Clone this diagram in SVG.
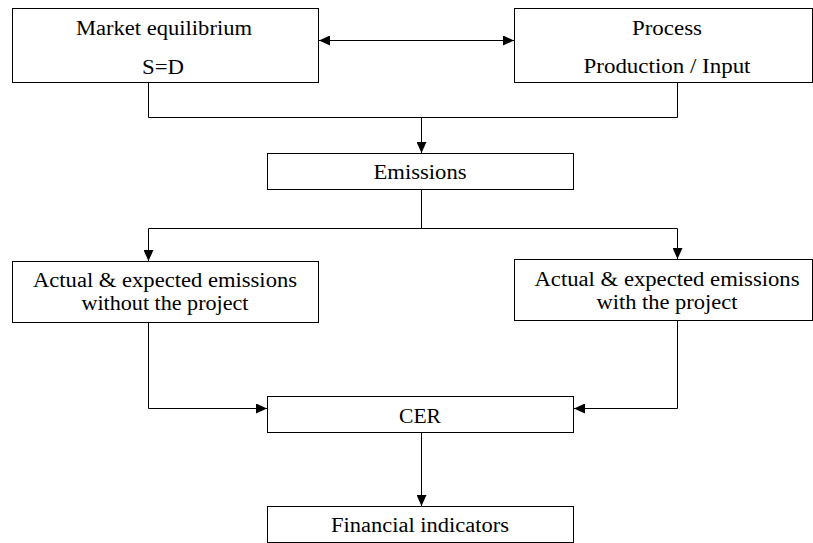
<svg xmlns="http://www.w3.org/2000/svg" width="813" height="543" viewBox="0 0 813 543">
<style>
.box{fill:#fff;stroke:#000;stroke-width:1}
.t{font-family:'Liberation Serif','Times New Roman',serif;font-size:20px;fill:#000;text-anchor:middle}
.c{fill:none;stroke:#000;stroke-width:1}
</style>
<defs>
<marker id="ah" markerUnits="userSpaceOnUse" markerWidth="11" markerHeight="10" refX="11" refY="5" orient="auto-start-reverse">
<path d="M0,0 L11,5 L0,10 z" fill="#000"/>
</marker>
</defs>
<rect width="813" height="543" fill="#fff"/>
<g id="connectors">
<path class="c" d="M319,40.5 H514" marker-start="url(#ah)" marker-end="url(#ah)"/>
<path class="c" d="M148.5,82.5 V117.5 H677.5 V82.5"/>
<path class="c" d="M421.5,117.5 V153" marker-end="url(#ah)"/>
<path class="c" d="M421.5,189.5 V228.5"/>
<path class="c" d="M148.5,228.5 H677.5"/>
<path class="c" d="M148.5,228.5 V261" marker-end="url(#ah)"/>
<path class="c" d="M677.5,228.5 V259" marker-end="url(#ah)"/>
<path class="c" d="M148.5,322.5 V408.5 H267" marker-end="url(#ah)"/>
<path class="c" d="M677.5,320.5 V408.5 H574" marker-end="url(#ah)"/>
<path class="c" d="M421.5,432.5 V506" marker-end="url(#ah)"/>
</g>
<g id="market">
<rect class="box" x="12.5" y="8.5" width="306" height="74"/>
<text class="t" x="164" y="35" textLength="176" lengthAdjust="spacingAndGlyphs">Market equilibrium</text>
<text class="t" x="163" y="74" textLength="42" lengthAdjust="spacingAndGlyphs">S=D</text>
</g>
<g id="process">
<rect class="box" x="514.5" y="8.5" width="298" height="74"/>
<text class="t" x="667" y="35" textLength="70" lengthAdjust="spacingAndGlyphs">Process</text>
<text class="t" x="667" y="73" textLength="167" lengthAdjust="spacingAndGlyphs">Production / Input</text>
</g>
<g id="emissions">
<rect class="box" x="267.5" y="153.5" width="306" height="36"/>
<text class="t" x="420" y="179" textLength="93" lengthAdjust="spacingAndGlyphs">Emissions</text>
</g>
<g id="without">
<rect class="box" x="12.5" y="261.5" width="306" height="61"/>
<text class="t" x="165" y="287" textLength="264" lengthAdjust="spacingAndGlyphs">Actual &amp; expected emissions</text>
<text class="t" x="165" y="310" textLength="167" lengthAdjust="spacingAndGlyphs">without the project</text>
</g>
<g id="with">
<rect class="box" x="514.5" y="259.5" width="298" height="61"/>
<text class="t" x="667" y="286" textLength="265" lengthAdjust="spacingAndGlyphs">Actual &amp; expected emissions</text>
<text class="t" x="667" y="309" textLength="141" lengthAdjust="spacingAndGlyphs">with the project</text>
</g>
<g id="cer">
<rect class="box" x="267.5" y="396.5" width="306" height="36"/>
<text class="t" x="420" y="423" textLength="42" lengthAdjust="spacingAndGlyphs">CER</text>
</g>
<g id="financial">
<rect class="box" x="267.5" y="506.5" width="306" height="36"/>
<text class="t" x="420" y="532" textLength="178" lengthAdjust="spacingAndGlyphs">Financial indicators</text>
</g>
</svg>
